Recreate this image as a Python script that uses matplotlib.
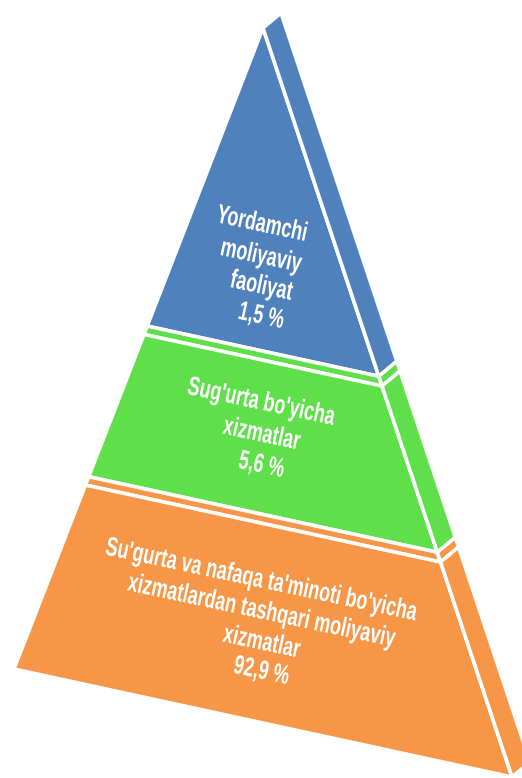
import matplotlib
matplotlib.use("Agg")
import matplotlib.pyplot as plt
from matplotlib.patches import Polygon, PathPatch
from matplotlib.textpath import TextPath
from matplotlib.font_manager import FontProperties
from matplotlib.transforms import Affine2D
import numpy as np

# === DATA ===
categories = [
    ["Yordamchi", "moliyaviy", "faoliyat"],
    ["Sug'urta bo'yicha", "xizmatlar"],
    ["Su'gurta va nafaqa ta'minoti bo'yicha",
     "xizmatlardan tashqari moliyaviy", "xizmatlar"],
]
values = ["1,5", "5,6", "92,9"]
colors = ["#4F81BD", "#5FE04A", "#F79646"]

# === LAYOUT (pixel space, y down) ===
W, H = 522, 778
apex = np.array([263.0, 28.0])
left = np.array([14.0, 669.0])
right = np.array([512.0, 777.0])
side = np.array([18.0, -15.0])          # depth offset of the right face
levels = [0.0, 0.465, 0.70, 1.0]         # where the layers split along the edges
lip = 0.013
text_y = [[222, 254, 284, 314], [400, 432, 463], [578, 609, 640, 669]]
text_x = 262
angle = 12
em = 22
narrow = 0.82      # fake "Arial Narrow"
stretch = 1.22


def on_edge(end, t):
    return apex + t * (end - apex)


fig = plt.figure(figsize=(W / 100, H / 100), dpi=100)
ax = fig.add_axes([0, 0, 1, 1])
ax.set_xlim(0, W)
ax.set_ylim(H, 0)
ax.axis("off")

edge = dict(edgecolor="white", linewidth=2.6, joinstyle="miter")

for i, c in enumerate(colors):
    t0, t1 = levels[i], levels[i + 1]
    if i > 0:
        # thin visible top of the lower layer
        a, b = t0, t0 + lip
        ax.add_patch(Polygon([on_edge(left, a), on_edge(right, a),
                              on_edge(right, b), on_edge(left, b)],
                             facecolor=c, **edge))
        ax.add_patch(Polygon([on_edge(right, a), on_edge(right, a) + side,
                              on_edge(right, b) + side, on_edge(right, b)],
                             facecolor=c, **edge))
        t0 = b
    if t0 == 0:
        front = [apex, on_edge(right, t1), on_edge(left, t1)]
    else:
        front = [on_edge(left, t0), on_edge(right, t0),
                 on_edge(right, t1), on_edge(left, t1)]
    ax.add_patch(Polygon(front, facecolor=c, **edge))
    ax.add_patch(Polygon([on_edge(right, t0), on_edge(right, t0) + side,
                          on_edge(right, t1) + side, on_edge(right, t1)],
                         facecolor=c, **edge))

# === LABELS ===
fp = FontProperties(family="Liberation Sans", weight="bold")
for lines, val, ys in zip(categories, values, text_y):
    for s, y in zip(lines + [val + " %"], ys):
        tp = TextPath((0, 0), s, size=em, prop=fp)
        bb = tp.get_extents()
        cx = (bb.x0 + bb.x1) / 2
        cy = em * 0.36
        tr = (Affine2D().translate(-cx, -cy).scale(narrow, -stretch)
              .rotate_deg(angle).translate(text_x, y))
        ax.add_patch(PathPatch(tr.transform_path(tp), facecolor="white",
                               edgecolor="none"))

plt.savefig("out.png", dpi=100)
